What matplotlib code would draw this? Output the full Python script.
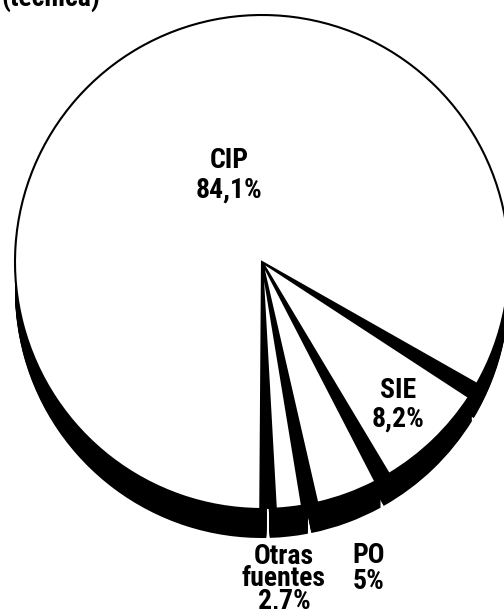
import matplotlib
matplotlib.use("Agg")
import matplotlib.pyplot as plt
import numpy as np
from matplotlib.patches import Wedge

plt.rcParams["font.family"] = ["Roboto Condensed", "DejaVu Sans"]
plt.rcParams["font.stretch"] = "condensed"
plt.rcParams["font.weight"] = "bold"

# ─── Data: shares of financing (%) — slices listed counter-clockwise from the bottom
names = ["Otras\nfuentes", "PO", "SIE", "CIP"]
shares = [2.7, 5.0, 8.2, 84.1]
share_labels = ["2,7%", "5%", "8,2%", "84,1%"]
caption = "(técnica)"

# ─── Geometry / style (figure pixels, y up) ──────────────────────────────────
W, H = 504, 609
CENTER = np.array([262.0, H - 262.0])
RADIUS = 247
DEPTH = 29          # height of the black "3D" side
START = -90.0       # first slice starts straight down
GAP_LO = 3.2        # black gap before each slice (deg)
GAP_HI = 0.4        # black gap after each slice (deg)
SEAM = 0.4          # half-width of white seam between the side walls (deg)
FS = 20

# label anchor (x, y_top from image top, ha, linespacing)
LABEL_POS = {
    "CIP":            (196, 147, "left", 1.12),
    "SIE":            (372, 377, "left", 1.08),
    "PO":             (352, 542, "left", 0.95),
    "Otras\nfuentes": (284, 543, "center", 0.78),
}

fig = plt.figure(figsize=(W / 100, H / 100), dpi=100)
ax = fig.add_axes([0, 0, 1, 1])
ax.set_xlim(0, W)
ax.set_ylim(0, H)
ax.axis("off")

bounds = START + 360.0 * np.concatenate([[0], np.cumsum(shares)]) / 100.0
mid_shift = (GAP_LO - GAP_HI) / 2

# side walls: each slice swept downwards, separated by thin white seams
for i in range(len(shares)):
    a = bounds[i] + mid_shift + SEAM
    b = bounds[i + 1] + mid_shift - SEAM
    for t in np.linspace(0, DEPTH, DEPTH + 1):
        ax.add_patch(Wedge(CENTER - [0, t], RADIUS, a, b,
                           facecolor="black", edgecolor="none", zorder=1))

# top face background is black so the gaps between slices read as dark strips
ax.add_patch(Wedge(CENTER, RADIUS, 0, 360, facecolor="black",
                   edgecolor="none", zorder=2))

# white slice tops
for i in range(len(shares)):
    ax.add_patch(Wedge(CENTER, RADIUS, bounds[i] + GAP_LO, bounds[i + 1] - GAP_HI,
                       facecolor="white", edgecolor="black", lw=1.5, zorder=3))

# labels
for name, lab in zip(names, share_labels):
    x, ytop, ha, ls = LABEL_POS[name]
    ax.text(x, H - ytop, f"{name}\n{lab}", ha=ha, va="top", multialignment="center",
            fontsize=FS, fontweight="bold", linespacing=ls, zorder=5)

ax.text(100, H - 6, caption, ha="right", va="baseline", fontsize=FS,
        fontweight="bold")

fig.savefig("out.png", dpi=100)
